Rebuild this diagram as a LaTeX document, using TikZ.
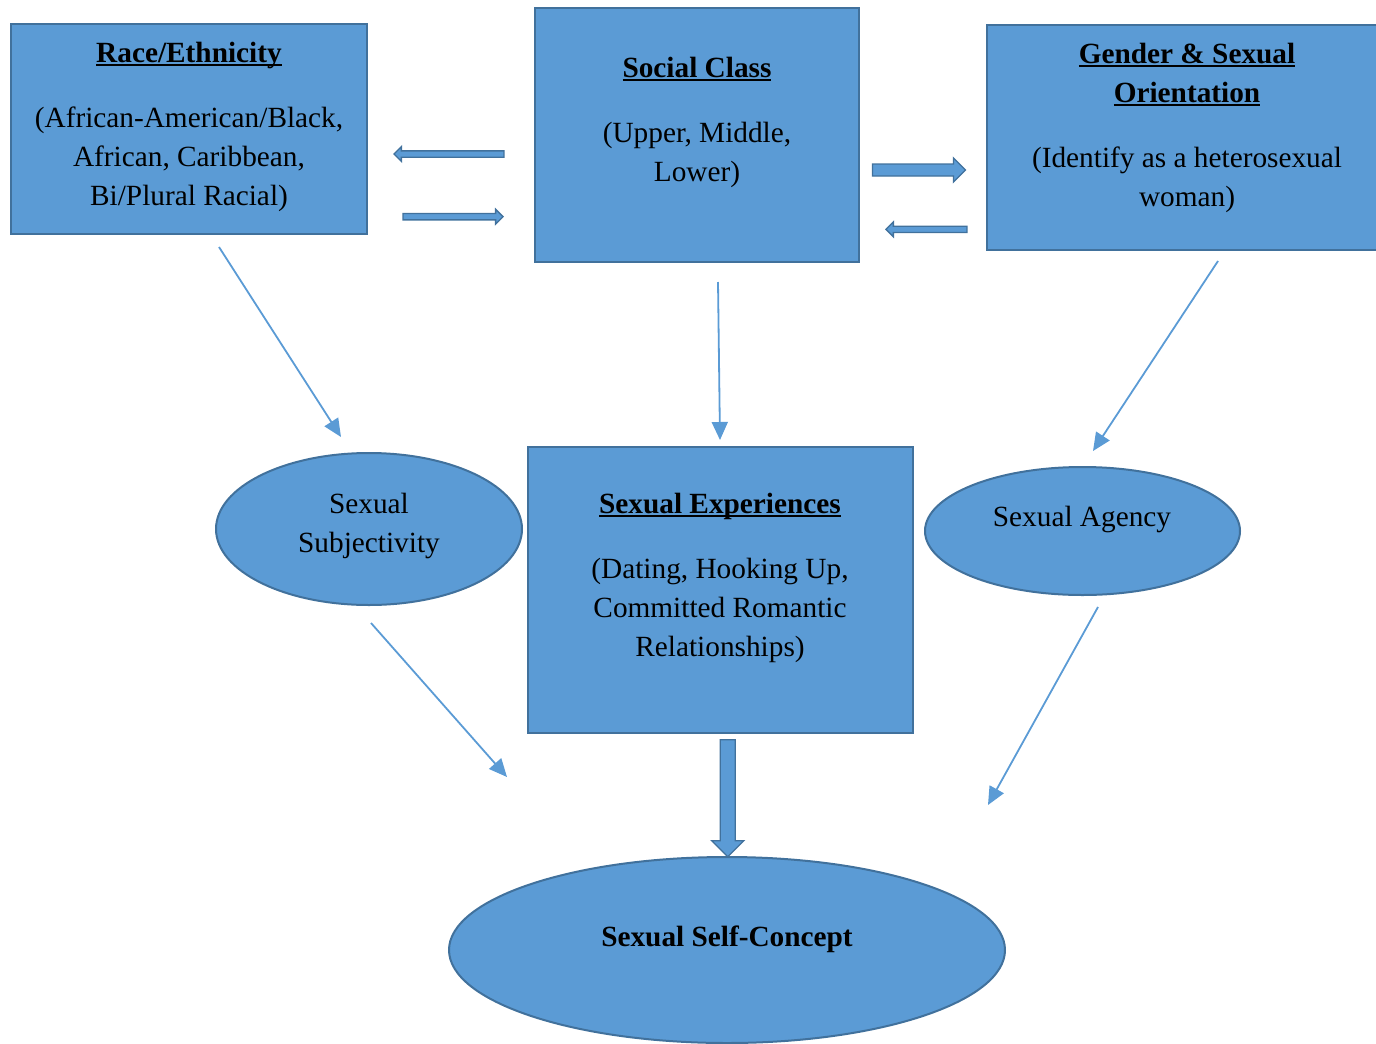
\documentclass[tikz,border=0pt]{standalone}
\usepackage{fontspec}
\setmainfont{Liberation Serif}
\usetikzlibrary{shapes.geometric,shapes.arrows,arrows.meta}
\definecolor{boxblue}{HTML}{5B9BD5}
\definecolor{edgeblue}{HTML}{41719C}
\newcommand{\hdline}[1]{\setbox0\hbox{\bfseries #1}\rlap{\rule[-4.2pt]{\wd0}{2.3pt}}\box0}
\begin{document}
\begin{tikzpicture}[x=1pt, y=-1pt,
                box/.style={
                    draw=edgeblue, line width=2pt, fill=boxblue, rectangle, inner sep=0pt
                },
                oval/.style={
                    draw=edgeblue, line width=2pt, fill=boxblue, ellipse, inner sep=0pt
                },
                words/.style={
                    align=center, anchor=north, inner sep=0pt, font=\fontsize{29.3}{39}\selectfont
                },
                thinarrow/.style={
                    boxblue, line width=1.8pt, -{Triangle[length=18pt,width=16pt]}
                },
                blockarrow/.style 2 args={
                    single arrow, draw=edgeblue, line width=1.3pt, fill=boxblue, inner sep=0pt,
                    text height=#1, text depth=0pt, single arrow head extend=#2
                }
            ]
            \useasboundingbox (0,0) rectangle (1376,1044);
            \node[box, minimum width=356, minimum height=210] (race) at (189, 129) {};
            \node[box, minimum width=324, minimum height=254] (class) at (697, 135) {};
            \node[box, minimum width=413, minimum height=225] (gender) at (1193.5, 137.5) {};
            \node[box, minimum width=385, minimum height=286] (exper) at (720, 590) {};
            \node[oval, minimum width=306, minimum height=152] (subj) at (369, 529) {};
            \node[oval, minimum width=315, minimum height=128] (agency) at (1082.5, 531) {};
            \node[oval, minimum width=556, minimum height=186] (selfc) at (727, 950) {};
            
            % texts
            \node[words] (race-text) at (189, 41.5) {\hdline{Race/Ethnicity}\\[26pt] (African-American/Black,\\ African, Caribbean,\\ Bi/Plural Racial)};
            \node[words] (class-text) at (697, 56.5) {\hdline{Social Class}\\[26.5pt] (Upper, Middle,\\ Lower)};
            \node[words] (gender-text) at (1187, 42.5) {\hdline{Gender \& Sexual}\\ \hdline{Orientation}\\[26.5pt] (Identify as a heterosexual\\ woman)};
            \node[words] (exper-text) at (720, 492.5) {\hdline{Sexual Experiences}\\[26.5pt] (Dating, Hooking Up,\\ Committed Romantic\\ Relationships)};
            \node[words] (subj-text) at (369, 492.5) {Sexual\\ Subjectivity};
            \node[words] (agency-text) at (1082, 505.5) {Sexual Agency};
            \node[words, font=\fontsize{29.3}{39}\selectfont\bfseries] (selfc-text) at (727, 925.5) {Sexual Self-Concept};
            
            % block arrows
            \node[blockarrow={5pt}{4.3pt}, minimum height=110, rotate=180] (class-race) at (450.5, 154) {};
            \node[blockarrow={5pt}{4.3pt}, minimum height=100] (race-class) at (451.5, 216.7) {};
            \node[blockarrow={10.7pt}{6pt}, minimum height=93] (class-gender) at (916, 170) {};
            \node[blockarrow={5pt}{4.3pt}, minimum height=81, rotate=180] (gender-class) at (928, 229.3) {};
            \node[blockarrow={13.7pt}{8.5pt}, minimum height=117, rotate=-90] (exper-selfc) at (727.7, 794.5) {};
            
            % thin arrows
            \coordinate (r1) at (219, 247);
            \coordinate (r2) at (341, 437);
            \coordinate (c1) at (718, 282);
            \coordinate (c2) at (720, 440);
            \coordinate (g1) at (1218, 261);
            \coordinate (g2) at (1093, 451);
            \coordinate (s1) at (371, 623);
            \coordinate (s2) at (507, 777);
            \coordinate (a1) at (1098, 607);
            \coordinate (a2) at (988, 805);
            \draw[thinarrow] (r1) -- (r2);
            \draw[thinarrow] (c1) -- (c2);
            \draw[thinarrow] (g1) -- (g2);
            \draw[thinarrow] (s1) -- (s2);
            \draw[thinarrow] (a1) -- (a2);
            \end{tikzpicture}
\end{document}
